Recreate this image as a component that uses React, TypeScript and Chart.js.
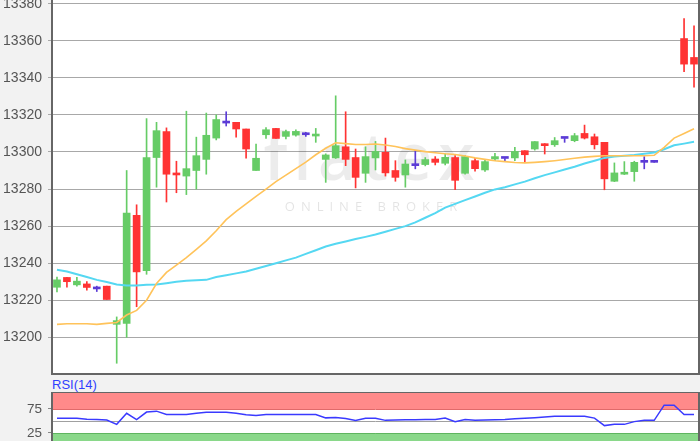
import React, { useEffect, useRef } from "react";
import { Chart, registerables } from "chart.js";
Chart.register(...registerables);

const labels = [
  "1","2","3","4","5","6","7","8","9","10","11","12","13","14","15","16","17","18","19","20",
  "21","22","23","24","25","26","27","28","29","30","31","32","33","34","35","36","37","38","39","40",
  "41","42","43","44","45","46","47","48","49","50","51","52","53","54","55","56","57","58","59","60",
  "61","62","63","64","65",
];

const open = [
  13227, 13232.3, 13228.3, 13228.8, 13226.1, 13227.6, 13207, 13207.5, 13265.8, 13236,
  13297, 13311, 13288, 13287, 13290, 13296, 13307.5, 13315.6, 13316, 13312.4,
  13290, 13309.3, 13312.7, 13308.4, 13309.1, 13309.3, 13308.6, 13296, 13296.8, 13302.8,
  13297, 13288.5, 13296.8, 13299.8, 13290, 13287.6, 13292.6, 13293.2, 13296.2, 13293.9,
  13297, 13288.5, 13295.3, 13290.3, 13296.2, 13296.5, 13296.8, 13300.7, 13301.6, 13304.3,
  13303.9, 13307.3, 13306.1, 13310, 13308.2, 13305.2, 13284.2, 13288, 13289.4, 13294.4,
  13294.4, null, null, 13361.2, 13351,
];
const high = [
  13232.5, 13232.3, 13232.3, 13230, 13227.6, 13227.6, 13211, 13290, 13271.5, 13318,
  13316, 13313, 13295, 13322, 13308, 13321, 13320, 13321.7, 13316, 13312.4,
  13304.3, 13313.2, 13312.7, 13311.8, 13312, 13310.6, 13312.7, 13299, 13330.3, 13321.7,
  13301.6, 13302.8, 13305.7, 13307.5, 13295.3, 13295.7, 13300.7, 13297, 13297.5, 13298.9,
  13298, 13298, 13296.6, 13295.5, 13299.3, 13296.5, 13302.5, 13300.7, 13305.6, 13304.5,
  13307.8, 13307.3, 13310, 13314.5, 13309.7, 13305.2, 13294.1, 13294.8, 13295, 13297.5,
  13294.4, null, null, 13372, 13368,
];
const low = [
  13224.5, 13227, 13227.6, 13225.4, 13224.7, 13220.4, 13186, 13200, 13216.5, 13234,
  13281, 13273, 13278, 13277, 13280, 13288, 13306.5, 13314, 13308, 13296.6,
  13290, 13307.3, 13307.3, 13307, 13308.5, 13308.4, 13305.2, 13283.6, 13296.5, 13292.6,
  13280.6, 13283.6, 13290.3, 13287, 13284.2, 13281, 13290.9, 13292.5, 13293, 13293,
  13279.6, 13288, 13289.6, 13289.5, 13295.3, 13294.8, 13295.3, 13294.4, 13301, 13298.9,
  13303, 13305.2, 13305.5, 13307, 13301.6, 13279.6, 13284, 13287.8, 13284.2, 13290.9,
  13294.4, null, null, 13343.3, 13335,
];
const close = [
  13231, 13230, 13230.3, 13226.9, 13226.1, 13220.4, 13209, 13267, 13235.3, 13297,
  13311.5, 13288, 13287.6, 13291, 13298, 13309, 13317.5, 13315.6, 13312.4, 13301.6,
  13296.6, 13312, 13307.3, 13311, 13311.1, 13309.3, 13309, 13298.4, 13303.4, 13296,
  13286.3, 13297.5, 13300.3, 13288.7, 13286.3, 13293.5, 13292.6, 13295.9, 13294.4, 13297.1,
  13284.7, 13297.5, 13291, 13294.8, 13297.5, 13296.5, 13300.3, 13298.5, 13305.6, 13303.4,
  13306.1, 13307.3, 13308.8, 13307.5, 13303.9, 13285.5, 13288.7, 13288.5, 13294.4, 13294.4,
  13294.4, null, null, 13347.4, 13347.4,
];

const maFast = [
  13207, 13207.3, 13207.3, 13207.3, 13207, 13207.5, 13208, 13212, 13214.5, 13220,
  13229, 13235, 13239, 13243, 13247.5, 13252, 13257.5, 13263.5, 13268, 13272,
  13276, 13280, 13284, 13287.5, 13291, 13294.5, 13298.5, 13302, 13305, 13304.5,
  13304, 13304, 13304.3, 13303.8, 13303, 13301.8, 13301, 13300.2, 13299.6, 13299,
  13298.6, 13297.8, 13296.8, 13296, 13295.3, 13294.8, 13294.3, 13294.1, 13294.4, 13294.8,
  13295.3, 13295.9, 13296.6, 13297.2, 13297.6, 13298, 13298, 13298, 13298, 13298,
  13298.2, 13302.5, 13307.5, 13310, 13312.5,
];
const maSlow = [
  13236.5, 13235.5, 13234, 13232.5, 13231, 13229.8, 13228.5, 13228, 13228, 13228.3,
  13228.5, 13229.2, 13230, 13230.5, 13230.8, 13231, 13232.5, 13233.5, 13234.5, 13235.5,
  13237, 13238.5, 13240, 13241.5, 13243, 13245, 13247, 13249, 13250.5, 13251.7,
  13253, 13254.2, 13255.5, 13257, 13258.5, 13260, 13262, 13264.5, 13267, 13270,
  13272, 13274, 13276, 13278, 13279.8, 13281, 13282.5, 13284, 13285.8, 13287.5,
  13289, 13290.5, 13292, 13293.8, 13295.3, 13296.8, 13297.6, 13298, 13298.4, 13299,
  13299.7, 13301.5, 13303.6, 13304.5, 13305.5,
];
const rsi = [
  55.8, 55.8, 55.8, 53.5, 53, 52, 43, 66, 53, 68.6,
  70.5, 63.5, 63.5, 63.5, 66, 68, 68, 68, 66, 63,
  61.5, 63.5, 63.5, 63.5, 63.5, 63.5, 63.5, 56.5, 57.5, 55,
  51.3, 55.8, 55.8, 51.3, 52, 52.5, 52.5, 53, 53, 56.3,
  48.7, 53, 51.3, 52, 52.5, 53, 54.5, 55.8, 57, 58.5,
  60, 60, 60, 60, 56, 40.4, 43, 43, 48.7, 51.3,
  51.3, 83, 83, 63.5, 63.5,
];

const yTicksMain = { min: 13180.2, max: 13382, step: 20 };
const rsiTicks = [25, 75];
const rsiRange = { min: -14.6, max: 110.4 };
const rsiBands = { upper: 75, mid: 50, lower: 25 };

const GREEN = "#66cc66";
const RED = "#ff3333";
const DOJI = "#5b3bd6";
const FONT = "'Liberation Sans', Arial, sans-serif";

const candleColors = labels.map((_, i) => {
  const o = open[i];
  const c = close[i];
  if (o == null || c == null) return "rgba(0,0,0,0)";
  if (c > o) return GREEN;
  if (c < o) return RED;
  return DOJI;
});
const bodies = labels.map((_, i) => (open[i] == null ? null : [open[i], close[i]]));
const wicks = labels.map((_, i) => (low[i] == null ? null : [low[i], high[i]]));

const fitY = (scale: any) => {
  scale.width = 52;
  scale.paddingTop = 0;
  scale.paddingBottom = 0;
};

const plainTick = (v: any) => String(v);

const plotBg = {
  id: "plotBg",
  beforeDraw(chart: any) {
    const { ctx, chartArea: a } = chart;
    ctx.save();
    ctx.fillStyle = "#ffffff";
    ctx.fillRect(a.left, a.top, a.right - a.left, a.bottom - a.top);
    ctx.restore();
  },
};

const watermark = {
  id: "watermark",
  beforeDatasetsDraw(chart: any) {
    const { ctx } = chart;
    ctx.save();
    ctx.fillStyle = "rgba(0,0,0,0.075)";
    ctx.font = "600 66px 'Open Sans', sans-serif";
    ctx.textAlign = "center";
    ctx.textBaseline = "alphabetic";
    (ctx as any).letterSpacing = "6px";
    ctx.fillText("flatex", 372, 180);
    ctx.fillStyle = "rgba(0,0,0,0.11)";
    ctx.font = "13px 'Open Sans', sans-serif";
    (ctx as any).letterSpacing = "6px";
    ctx.fillText("ONLINE BROKER", 374, 211);
    ctx.restore();
  },
};

const mainBorder = {
  id: "mainBorder",
  afterDraw(chart: any) {
    const { ctx, chartArea: a } = chart;
    ctx.save();
    ctx.strokeStyle = "#666";
    ctx.lineWidth = 2;
    ctx.beginPath();
    ctx.moveTo(a.left, a.top);
    ctx.lineTo(a.left, a.bottom);
    ctx.lineTo(a.right, a.bottom);
    ctx.lineTo(a.right, a.top);
    ctx.stroke();
    ctx.restore();
  },
};

const rsiDecor = {
  id: "rsiDecor",
  beforeDatasetsDraw(chart: any) {
    const { ctx, chartArea: a, scales } = chart;
    const y = scales.y;
    const yU = y.getPixelForValue(rsiBands.upper);
    const yM = y.getPixelForValue(rsiBands.mid);
    const yL = y.getPixelForValue(rsiBands.lower);
    const w = a.right - a.left;
    ctx.save();
    ctx.fillStyle = "#ff8a8a";
    ctx.fillRect(a.left, a.top, w, yU - a.top);
    ctx.fillStyle = "#8ad88a";
    ctx.fillRect(a.left, yL, w, a.bottom - yL);
    ctx.lineWidth = 1;
    ctx.strokeStyle = "#e06a6a";
    ctx.beginPath();
    ctx.moveTo(a.left, Math.round(yU) + 0.5);
    ctx.lineTo(a.right, Math.round(yU) + 0.5);
    ctx.stroke();
    ctx.strokeStyle = "#5fb55f";
    ctx.beginPath();
    ctx.moveTo(a.left, Math.round(yL) + 0.5);
    ctx.lineTo(a.right, Math.round(yL) + 0.5);
    ctx.stroke();
    ctx.strokeStyle = "#a0a0a0";
    ctx.beginPath();
    ctx.moveTo(a.left, Math.round(yM) + 0.5);
    ctx.lineTo(a.right, Math.round(yM) + 0.5);
    ctx.stroke();
    ctx.restore();
  },
  afterDraw(chart: any) {
    const { ctx, chartArea: a } = chart;
    ctx.save();
    ctx.strokeStyle = "#666";
    ctx.lineWidth = 2;
    ctx.beginPath();
    ctx.moveTo(a.left, a.bottom);
    ctx.lineTo(a.left, a.top);
    ctx.lineTo(a.right, a.top);
    ctx.lineTo(a.right, a.bottom);
    ctx.stroke();
    ctx.restore();
  },
};

export default function App() {
  const mainRef = useRef<HTMLCanvasElement>(null);
  const rsiRef = useRef<HTMLCanvasElement>(null);

  useEffect(() => {
    document.body.style.margin = "0";
    const main = new Chart(mainRef.current as HTMLCanvasElement, {
      type: "bar",
      data: {
        labels,
        datasets: [
          {
            type: "line",
            label: "MA fast",
            data: maFast,
            borderColor: "#ffc35a",
            borderWidth: 1.6,
            pointRadius: 0,
            tension: 0,
            order: 0,
          } as any,
          {
            type: "line",
            label: "MA slow",
            data: maSlow,
            borderColor: "#55d8f2",
            borderWidth: 2,
            pointRadius: 0,
            tension: 0,
            order: 0,
          } as any,
          {
            type: "bar",
            label: "body",
            data: bodies as any,
            backgroundColor: candleColors,
            borderWidth: 0,
            barThickness: 7,
            minBarLength: 2,
            grouped: false,
            order: 1,
          } as any,
          {
            type: "bar",
            label: "wick",
            data: wicks as any,
            backgroundColor: candleColors,
            borderWidth: 0,
            barThickness: 1,
            grouped: false,
            order: 2,
          } as any,
        ],
      },
      options: {
        animation: false,
        responsive: false,
        devicePixelRatio: 1,
        layout: { padding: { top: 0, right: 1, bottom: 1, left: 0 } },
        plugins: { legend: { display: false }, tooltip: { enabled: false } },
        scales: {
          x: { display: false, offset: true },
          y: {
            min: yTicksMain.min,
            max: yTicksMain.max,
            afterFit: fitY,
            ticks: {
              stepSize: yTicksMain.step,
              includeBounds: false,
              callback: plainTick,
              color: "#555",
              font: { family: FONT, size: 14 },
              padding: 6,
            },
            grid: { color: "#a8a8a8", tickLength: 4, lineWidth: 1 },
            border: { color: "#666", width: 2 },
          },
        },
      } as any,
      plugins: [plotBg, watermark, mainBorder],
    });

    const rsiChart = new Chart(rsiRef.current as HTMLCanvasElement, {
      type: "line",
      data: {
        labels,
        datasets: [
          {
            label: "RSI(14)",
            data: rsi,
            borderColor: "#3a3aff",
            borderWidth: 1.5,
            pointRadius: 0,
            tension: 0,
          },
        ],
      },
      options: {
        animation: false,
        responsive: false,
        devicePixelRatio: 1,
        layout: { padding: { top: 0, right: 1, bottom: 0, left: 0 } },
        plugins: { legend: { display: false }, tooltip: { enabled: false } },
        scales: {
          x: { display: false, offset: true },
          y: {
            min: rsiRange.min,
            max: rsiRange.max,
            afterFit: fitY,
            afterBuildTicks: (scale: any) => {
              scale.ticks = rsiTicks.map((v) => ({ value: v }));
            },
            ticks: {
              callback: plainTick,
              color: "#555",
              font: { family: FONT, size: 13.5 },
              padding: 6,
            },
            grid: { drawOnChartArea: false, color: "#888", tickLength: 4 },
            border: { color: "#666", width: 2 },
          },
        },
      } as any,
      plugins: [plotBg, rsiDecor],
    });

    return () => {
      main.destroy();
      rsiChart.destroy();
    };
  }, []);

  return (
    <div
      style={{
        position: "fixed",
        left: 0,
        top: 0,
        width: 700,
        height: 441,
        overflow: "hidden",
        background: "#f2f2f2",
      }}
    >
      <canvas
        ref={mainRef}
        width={700}
        height={375}
        style={{ position: "absolute", left: 0, top: 0, width: 700, height: 375 }}
      />
      <div
        style={{
          position: "absolute",
          left: 52,
          top: 377,
          font: `13px ${FONT}`,
          lineHeight: "15px",
          color: "#3040ff",
        }}
      >
        RSI(14)
      </div>
      <canvas
        ref={rsiRef}
        width={700}
        height={60}
        style={{ position: "absolute", left: 0, top: 392, width: 700, height: 60 }}
      />
    </div>
  );
}
